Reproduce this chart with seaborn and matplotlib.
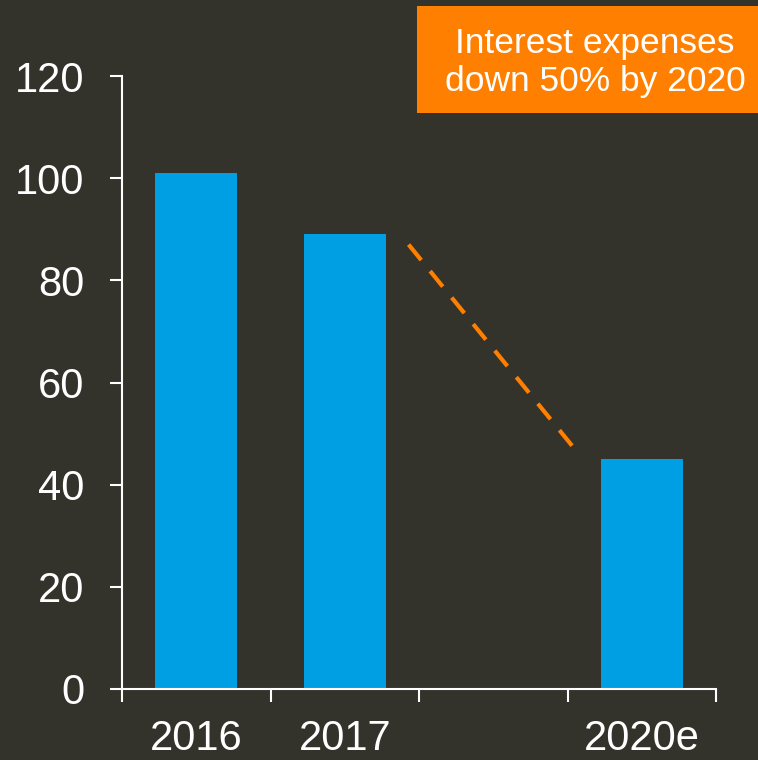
import numpy as np
import pandas as pd
import matplotlib
matplotlib.use("Agg")
import matplotlib.pyplot as plt
import seaborn as sns
from matplotlib.patches import Rectangle

# Interest expenses by year (2020 is an estimate); the gap slot stands for 2018-2019
years = ["2016", "2017", "", "2020e"]
bar_years = ["2016", "2017", "2020e"]
bar_values = [101, 89, 45]
trend_x = [1.43, 2.59]
trend_y = [87, 45.5]
yticks = [0, 20, 40, 60, 80, 100, 120]
callout = "Interest expenses\ndown 50% by 2020"

BG = "#33332c"
BLUE = "#009fe3"
ORANGE = "#ff7f00"
WHITE = "#ffffff"

sns.set_style("dark")
plt.rcParams["font.family"] = ["Liberation Sans", "DejaVu Sans"]

fig = plt.figure(figsize=(7.58, 7.60), dpi=100, facecolor=BG)
ax = fig.add_axes([122 / 758, 1 - 689 / 760, (716 - 122) / 758, (689 - 76) / 760])
ax.set_facecolor(BG)

df = pd.DataFrame({"year": bar_years, "value": bar_values})
sns.barplot(data=df, x="year", y="value", order=years, color=BLUE,
            width=0.555, saturation=1, ax=ax, edgecolor="none")

ax.plot(trend_x, trend_y, color=ORANGE, lw=3, linestyle=(0, (4.8, 3.4)),
        solid_capstyle="butt", dash_capstyle="butt")

ax.set_xlim(-0.5, 3.5)
ax.set_ylim(0, 120)
ax.set_yticks(yticks)
ax.set_yticklabels([str(t) for t in yticks])
ax.set_xticks([-0.5, 0.5, 1.5, 2.5, 3.5])
ax.set_xticklabels([])
ax.set_xticks([0, 1, 2, 3], minor=True)
ax.set_xticklabels(years, minor=True)
ax.set_xlabel("")
ax.set_ylabel("")
ax.grid(False)

for side in ["top", "right"]:
    ax.spines[side].set_visible(False)
for side in ["left", "bottom"]:
    ax.spines[side].set_visible(True)
    ax.spines[side].set_color(WHITE)
    ax.spines[side].set_linewidth(1.5)

ax.tick_params(axis="y", which="major", direction="out", length=9, width=1.5,
               color=WHITE, labelcolor=WHITE, labelsize=30, pad=18, left=True)
ax.tick_params(axis="x", which="major", direction="out", length=9, width=1.5,
               color=WHITE, bottom=True)
ax.tick_params(axis="x", which="minor", length=0, labelcolor=WHITE,
               labelsize=30, pad=21.5, bottom=True)

# Callout box in the upper right corner
fig.patches.append(Rectangle((417 / 758, 1 - 113 / 760), 400 / 758, 107 / 760,
                             transform=fig.transFigure, facecolor=ORANGE,
                             edgecolor="none", zorder=5))
fig.text(595 / 758, 1 - 62.5 / 760, callout, ha="center", va="center",
         color=WHITE, fontsize=25.5, linespacing=1.17, zorder=6)

fig.savefig("out.png", dpi=100, facecolor=BG)
